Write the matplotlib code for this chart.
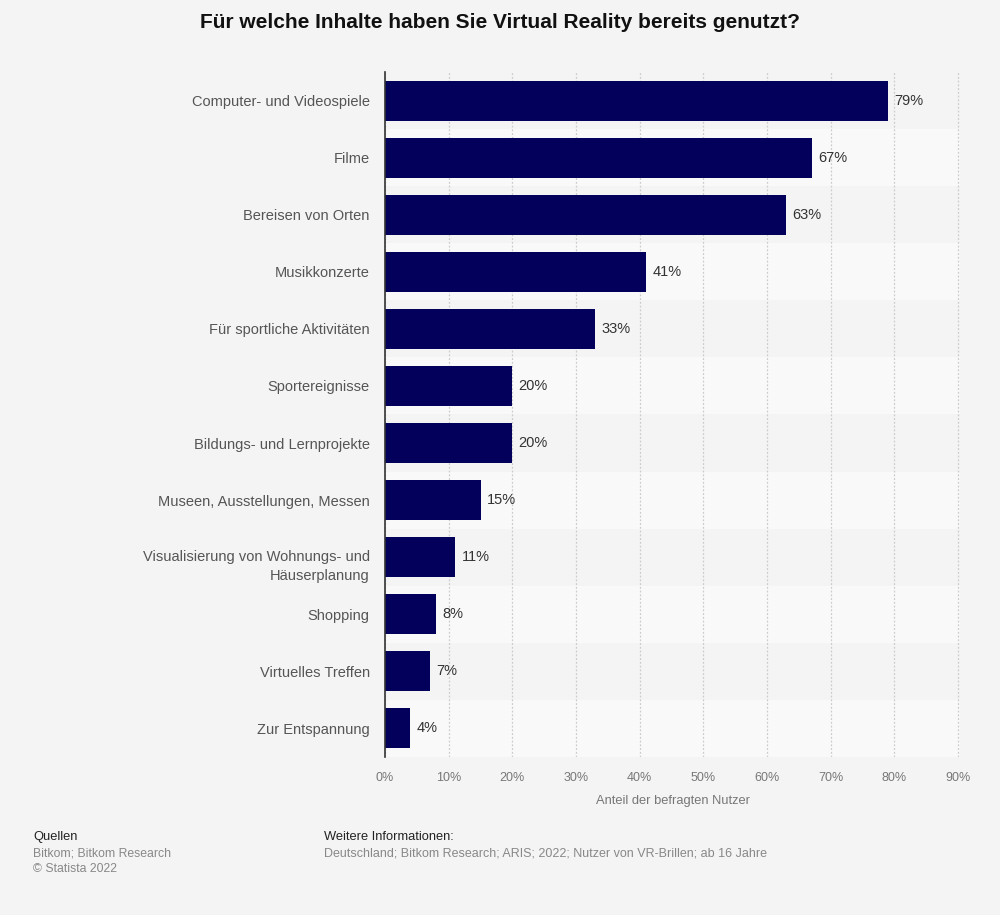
import matplotlib.pyplot as plt
import matplotlib.transforms as mtransforms
import numpy as np

plt.rcParams['font.family'] = ['Liberation Sans', 'DejaVu Sans']

categories = [
    "Computer- und Videospiele",
    "Filme",
    "Bereisen von Orten",
    "Musikkonzerte",
    "Für sportliche Aktivitäten",
    "Sportereignisse",
    "Bildungs- und Lernprojekte",
    "Museen, Ausstellungen, Messen",
    "Visualisierung von Wohnungs- und\nHäuserplanung",
    "Shopping",
    "Virtuelles Treffen",
    "Zur Entspannung",
]
values = [79, 67, 63, 41, 33, 20, 20, 15, 11, 8, 7, 4]
xticks = [0, 10, 20, 30, 40, 50, 60, 70, 80, 90]

bg = '#f4f4f4'
fig = plt.figure(figsize=(10, 9.15), dpi=100, facecolor=bg)
ax = fig.add_axes([0.385, 0.1727, 0.575, 0.7486])
ax.set_facecolor(bg)

n = len(categories)
y = np.arange(n)

# alternating row bands
for i in range(n):
    if i % 2 == 1:
        ax.axhspan(i - 0.5, i + 0.5, color='#f9f9f9', zorder=0, lw=0)

ax.barh(y, values, height=0.7, color='#03005b', zorder=3)
for yi, v in zip(y, values):
    ax.text(v + 1.0, yi, f"{v}%", va='center', ha='left', fontsize=10.5, color='#333333', zorder=4)

ax.set_xlim(0, 90.3)
ax.set_ylim(n - 0.5, -0.5)
ax.set_xticks(xticks)
ax.set_xticklabels([f"{t}%" for t in xticks], fontsize=9, color='#777777')
ax.set_yticks(y)
ax.set_yticklabels(categories, fontsize=10.5, color='#555555', linespacing=1.47)
ax.tick_params(axis='both', length=0)
ax.tick_params(axis='x', pad=11)
ax.tick_params(axis='y', pad=11)
ax.grid(axis='x', linestyle=(0, (1.5, 1.5)), color='#cccccc', lw=0.9, zorder=1)
ax.set_axisbelow(True)

# two-line label sits lower, first line at bar centre
for lbl in ax.get_yticklabels():
    if '\n' in lbl.get_text():
        lbl.set_transform(lbl.get_transform() +
                          mtransforms.ScaledTranslation(0, -5.5 / 100, fig.dpi_scale_trans))

for s in ['top', 'right', 'bottom']:
    ax.spines[s].set_visible(False)
ax.spines['left'].set_color('#333333')
ax.spines['left'].set_linewidth(1.2)
ax.spines['left'].set_zorder(5)

ax.set_xlabel("Anteil der befragten Nutzer", fontsize=9.3, color='#777777', labelpad=8)

fig.text(0.5, 1 - 23 / 915, "Für welche Inhalte haben Sie Virtual Reality bereits genutzt?",
         ha='center', va='center', fontsize=15, fontweight='bold', color='#111111')

fig.text(0.033, 1 - 837 / 915, "Quellen", fontsize=9.3, color='#222222', va='center')
fig.text(0.033, 1 - 853 / 915, "Bitkom; Bitkom Research", fontsize=8.8, color='#888888', va='center')
fig.text(0.033, 1 - 869 / 915, "© Statista 2022", fontsize=8.8, color='#888888', va='center')
fig.text(0.324, 1 - 837 / 915, "Weitere Informationen:", fontsize=9.3, color='#222222', va='center')
fig.text(0.324, 1 - 853 / 915, "Deutschland; Bitkom Research; ARIS; 2022; Nutzer von VR-Brillen; ab 16 Jahre",
         fontsize=9, color='#888888', va='center')

fig.savefig('out.png', dpi=100, facecolor=bg)
